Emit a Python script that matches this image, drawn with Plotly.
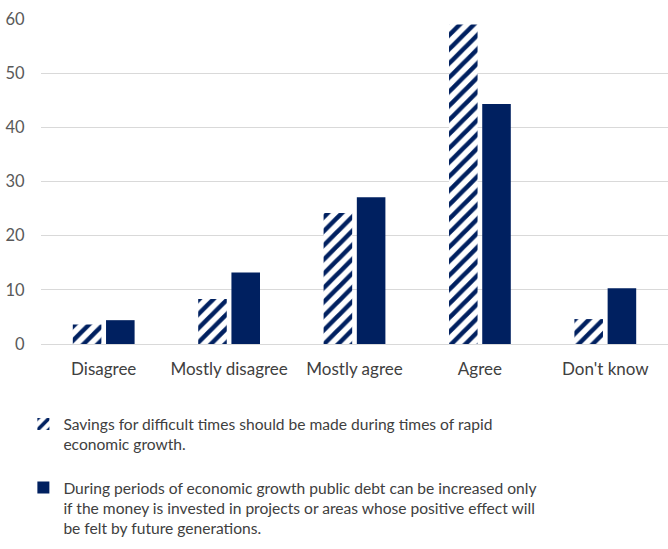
import plotly.graph_objects as go

categories = ["Disagree", "Mostly disagree", "Mostly agree", "Agree", "Don't know"]
savings_values = [3.6, 8.3, 24.2, 59.0, 4.6]
debt_values = [4.4, 13.2, 27.1, 44.3, 10.3]
savings_label = ("Savings for difficult times should be made during times of rapid<br>"
                 "economic growth.")
debt_label = ("During periods of economic growth public debt can be increased only<br>"
              "if the money is invested in projects or areas whose positive effect will<br>"
              "be felt by future generations.")
y_ticks = [0, 10, 20, 30, 40, 50, 60]

NAVY = "#002060"
FONT = "Lato"

fig = go.Figure()
fig.add_trace(go.Bar(
    x=categories, y=savings_values, name=savings_label, legendgroup="a",
    marker=dict(color="white", line=dict(width=0),
                pattern=dict(shape="/", fgcolor=NAVY, bgcolor="white",
                             size=10, solidity=0.45, fillmode="replace")),
))
fig.add_trace(go.Bar(
    x=categories, y=debt_values, name=debt_label, legendgroup="b",
    marker=dict(color=NAVY, line=dict(width=0)),
))

fig.update_layout(
    width=668, height=549,
    margin=dict(l=41, r=0, t=19, b=205, autoexpand=False),
    paper_bgcolor="white", plot_bgcolor="white",
    barmode="group", bargap=0.47, bargroupgap=0.14,
    font=dict(family=FONT, size=16, color="#595959"),
    showlegend=True,
    legend=dict(
        xref="container", yref="container", x=0.035, y=0.258,
        xanchor="left", yanchor="top",
        font=dict(family=FONT, size=15.6, color="#404040"),
        tracegroupgap=20, valign="top", itemwidth=30,
        bgcolor="rgba(0,0,0,0)",
    ),
)
fig.update_yaxes(
    range=[0, 60], tickvals=y_ticks, showgrid=True, gridcolor="#D9D9D9",
    gridwidth=1, zeroline=True, zerolinecolor="#D9D9D9", zerolinewidth=1,
    showline=False, ticks="outside", ticklen=0, ticklabelstandoff=12,
    tickfont=dict(family=FONT, size=16.5, color="#595959"),
)
fig.update_xaxes(
    showgrid=False, showline=False, ticks="outside", ticklen=0,
    ticklabelstandoff=10, tickangle=0,
    tickfont=dict(family=FONT, size=17, color="#404040"),
)

fig.write_html("out.html")
